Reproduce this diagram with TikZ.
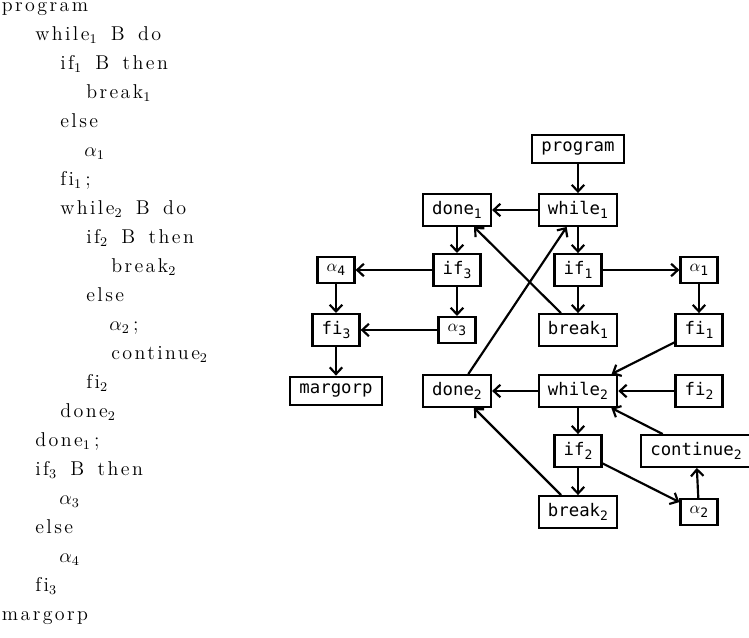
\documentclass[tikz,border=0pt]{standalone}
\usepackage{fontspec}
\usetikzlibrary{arrows.meta}
\newfontfamily\codefont{DejaVu Sans Mono}
\newfontfamily\lstfam[Extension=.otf, LetterSpace=12, Ligatures=NoCommon, WordSpace=1.5]{lmroman12-regular}
\newcommand\nsub[1]{\raisebox{-0.35ex}{\fontsize{7.8}{8}\selectfont #1}}
\newcommand\lstfont{\lstfam\fontsize{12}{14}\selectfont}
\tikzset{
  blk/.style={draw, line width=1.4pt, inner xsep=5.5pt, inner ysep=4.5pt,
    font=\codefont\fontsize{10.4}{12}\selectfont},
  ln/.style={anchor=base west, inner sep=0pt, font=\lstfont},
  flow/.style={->, line width=1.3pt},
}
\begin{document}
\begin{tikzpicture}[x=0.6pt, y=-0.6pt, >={Straight Barb[length=4pt, width=7.5pt]}]
			\useasboundingbox (0,0) rectangle (749,638);
			% the program text
			\node[ln] (l0) at (1.5,12) {program};
			\node[ln] (l1) at (35,41) {while$_1$ B do};
			\node[ln] (l2) at (60,70) {if$_1$ B then};
			\node[ln] (l3) at (86,99) {break$_1$};
			\node[ln] (l4) at (60,128) {else};
			\node[ln] (l5) at (84,157) {$\alpha_1$};
			\node[ln] (l6) at (60,186) {fi$_1$\,;};
			\node[ln] (l7) at (60,215) {while$_2$ B do};
			\node[ln] (l8) at (86,244) {if$_2$ B then};
			\node[ln] (l9) at (111,273) {break$_2$};
			\node[ln] (l10) at (86,302) {else};
			\node[ln] (l11) at (109,331) {$\alpha_2$\,;};
			\node[ln] (l12) at (111,360) {continue$_2$};
			\node[ln] (l13) at (86,389) {fi$_2$};
			\node[ln] (l14) at (60,418) {done$_2$};
			\node[ln] (l15) at (35,447) {done$_1$\,;};
			\node[ln] (l16) at (35,476) {if$_3$ B then};
			\node[ln] (l17) at (59,505) {$\alpha_3$};
			\node[ln] (l18) at (35,534) {else};
			\node[ln] (l19) at (59,563) {$\alpha_4$};
			\node[ln] (l20) at (35,592) {fi$_3$};
			\node[ln] (l21) at (1.5,621) {margorp};
			% the graph
			\node[blk] (program) at (578,149) {program};
			\node[blk] (while1) at (578,210) {while\nsub{1}};
			\node[blk] (done1) at (457,210) {done\nsub{1}};
			\node[blk] (if1) at (578,270) {if\nsub{1}};
			\node[blk] (alpha1) at (699,270) {$\alpha$\nsub{1}};
			\node[blk] (if3) at (457,270) {if\nsub{3}};
			\node[blk] (alpha4) at (336,270) {$\alpha$\nsub{4}};
			\node[blk] (break1) at (578,330) {break\nsub{1}};
			\node[blk] (fi1) at (699,330) {fi\nsub{1}};
			\node[blk] (alpha3) at (457,330) {$\alpha$\nsub{3}};
			\node[blk] (fi3) at (336,330) {fi\nsub{3}};
			\node[blk] (while2) at (578,391) {while\nsub{2}};
			\node[blk] (done2) at (457,391) {done\nsub{2}};
			\node[blk] (fi2) at (699,391) {fi\nsub{2}};
			\node[blk] (margorp) at (336,391) {margorp};
			\node[blk] (if2) at (578,451) {if\nsub{2}};
			\node[blk] (continue2) at (696,451) {continue\nsub{2}};
			\node[blk] (break2) at (578,512) {break\nsub{2}};
			\node[blk] (alpha2) at (699,512) {$\alpha$\nsub{2}};
			\draw[flow] (program) -- (while1);
			\draw[flow] (while1) -- (done1);
			\draw[flow] (while1) -- (if1);
			\draw[flow] (done1) -- (if3);
			\draw[flow] (if3) -- (alpha4);
			\draw[flow] (if3) -- (alpha3);
			\draw[flow] (alpha4) -- (fi3);
			\draw[flow] (alpha3) -- (fi3);
			\draw[flow] (fi3) -- (margorp);
			\draw[flow] (if1) -- (alpha1);
			\draw[flow] (if1) -- (break1);
			\draw[flow] (alpha1) -- (fi1);
			\draw[flow] (break1) -- (done1);
			\draw[flow] (done2) -- (while1);
			\draw[flow] (fi1) -- (while2);
			\draw[flow] (while2) -- (done2);
			\draw[flow] (fi2) -- (while2);
			\draw[flow] (continue2) -- (while2);
			\draw[flow] (while2) -- (if2);
			\draw[flow] (if2) -- (break2);
			\draw[flow] (if2) -- (alpha2);
			\draw[flow] (alpha2) -- (continue2);
			\draw[flow] (break2) -- (done2);
		\end{tikzpicture}
\end{document}
